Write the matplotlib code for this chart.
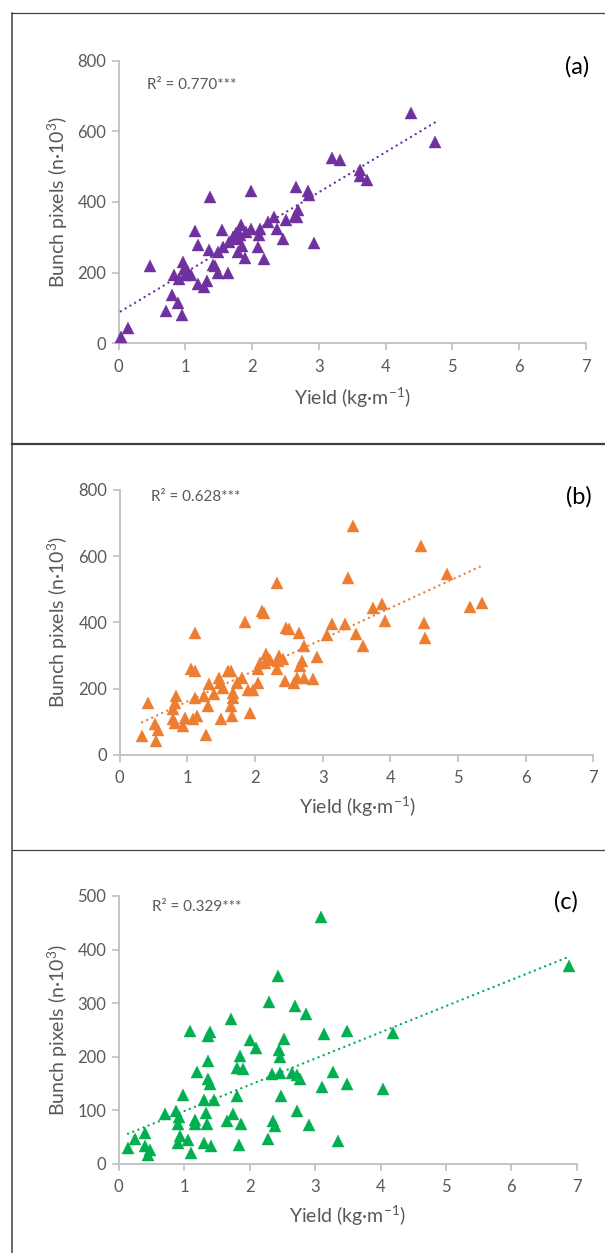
import matplotlib
matplotlib.use("Agg")
import matplotlib.pyplot as plt
from matplotlib.lines import Line2D
import numpy as np

plt.rcParams['font.family'] = ['Lato', 'DejaVu Sans']
plt.rcParams['mathtext.fontset'] = 'custom'
plt.rcParams['mathtext.rm'] = 'Lato'
plt.rcParams['mathtext.it'] = 'Lato:italic'
plt.rcParams['mathtext.bf'] = 'Lato:bold'

# ---------------- data ----------------
yield_a = [0.03, 0.14, 0.47, 0.71, 0.80, 0.83, 0.89, 0.91, 0.95, 0.97, 0.98, 0.99, 1.04, 1.08,
           1.14, 1.19, 1.19, 1.28, 1.33, 1.37, 1.36, 1.42, 1.45, 1.49, 1.49, 1.55, 1.57, 1.64,
           1.65, 1.72, 1.75, 1.78, 1.79, 1.83, 1.82, 1.85, 1.89, 1.91, 1.98, 1.98, 2.08, 2.12,
           2.10, 2.17, 2.24, 2.32, 2.37, 2.46, 2.50, 2.65, 2.64, 2.68, 2.67, 2.83, 2.85, 2.93,
           3.20, 3.31, 3.61, 3.62, 3.72, 4.38, 4.74]
pixels_a = [17, 44, 220, 92, 137, 193, 115, 181, 79, 231, 209, 193, 203, 193,
            319, 277, 168, 160, 175, 413, 264, 222, 220, 259, 200, 321, 274, 200,
            287, 302, 311, 295, 258, 335, 306, 276, 241, 316, 430, 323, 274, 323,
            306, 239, 344, 358, 323, 294, 349, 443, 360, 377, 357, 431, 420, 285,
            524, 519, 491, 474, 462, 651, 571]

yield_b = [0.33, 0.42, 0.52, 0.56, 0.54, 0.79, 0.83, 0.81, 0.79, 0.81, 0.94, 0.96, 1.06, 1.11,
           1.12, 1.08, 1.14, 1.11, 1.24, 1.27, 1.30, 1.32, 1.39, 1.46, 1.48, 1.53, 1.49, 1.60,
           1.64, 1.64, 1.67, 1.68, 1.66, 1.74, 1.81, 1.85, 1.90, 1.92, 1.97, 2.04, 2.05, 2.08,
           2.11, 2.13, 2.16, 2.14, 2.22, 2.32, 2.34, 2.33, 2.36, 2.42, 2.45, 2.46, 2.50, 2.58,
           2.62, 2.65, 2.66, 2.69, 2.72, 2.73, 2.86, 2.91, 3.06, 3.14, 3.33, 3.37, 3.45, 3.49,
           3.60, 3.74, 3.87, 3.92, 4.45, 4.49, 4.51, 4.83, 5.17, 5.35]
pixels_b = [56, 157, 92, 75, 41, 137, 178, 155, 107, 97, 87, 112, 258, 369,
            253, 107, 117, 172, 177, 59, 147, 213, 182, 233, 218, 203, 107, 253,
            253, 147, 187, 172, 117, 218, 233, 402, 197, 127, 197, 218, 258, 278,
            434, 429, 303, 278, 286, 520, 283, 259, 299, 289, 223, 384, 380, 218,
            233, 369, 269, 284, 233, 328, 228, 294, 362, 394, 394, 533, 691, 364,
            328, 444, 455, 404, 632, 399, 354, 545, 447, 459]

yield_c = [0.14, 0.24, 0.40, 0.40, 0.44, 0.48, 0.70, 0.87, 0.92, 0.90, 0.93, 0.90, 0.98, 1.05,
           1.09, 1.10, 1.17, 1.17, 1.20, 1.30, 1.30, 1.33, 1.35, 1.37, 1.36, 1.40, 1.37, 1.40,
           1.41, 1.46, 1.65, 1.71, 1.74, 1.80, 1.81, 1.85, 1.90, 1.84, 1.87, 2.00, 2.09, 2.28,
           2.30, 2.34, 2.36, 2.38, 2.43, 2.45, 2.47, 2.47, 2.48, 2.52, 2.65, 2.70, 2.73, 2.73,
           2.77, 2.86, 2.90, 3.09, 3.11, 3.14, 3.27, 3.35, 3.49, 3.49, 4.04, 4.19, 6.88]
pixels_c = [29, 47, 57, 34, 17, 26, 93, 98, 88, 74, 52, 39, 128, 44,
            248, 20, 83, 74, 171, 119, 40, 95, 74, 192, 158, 150, 238, 246,
            34, 119, 81, 270, 93, 180, 127, 202, 178, 35, 74, 231, 216, 46,
            302, 167, 81, 71, 351, 213, 199, 169, 126, 234, 170, 294, 166, 99,
            158, 279, 72, 460, 144, 242, 172, 43, 248, 150, 139, 245, 370]

# trend lines: (slope, intercept)
trend_a = (113.5, 87.0)
trend_b = (94.2, 66.7)
trend_c = (49.0, 49.6)

r2_labels = ["R\u00b2 = 0.770***", "R\u00b2 = 0.628***", "R\u00b2 = 0.329***"]
panel_labels = ["(a)", "(b)", "(c)"]
colors = ["#7030A0", "#ED7D31", "#00B050"]
y_max = [800, 800, 500]
y_step = [200, 200, 100]
x_ticks = [0, 1, 2, 3, 4, 5, 6, 7]

# ---------------- figure ----------------
W, H = 605, 1253
fig = plt.figure(figsize=(W / 100, H / 100), dpi=100)

def fx(px):
    return px / W

def fy(py):
    return 1 - py / H

# axes boxes in pixels: (x0, x7, y_top, y_bottom)
boxes = [(118.8, 585.6, 60.7, 343.3),
         (119.7, 593.4, 490.0, 754.7),
         (118.8, 576.8, 896.0, 1164.0)]
r2_pos = [(147, 85), (151, 496.7), (152, 907)]
pl_pos = [(577, 66.7), (579, 496.7), (566, 901.7)]
xl_pos = [(352, 398), (357, 806.7), (347.5, 1216)]
yl_x = [70, 70, 70]

datasets = [(yield_a, pixels_a, trend_a), (yield_b, pixels_b, trend_b), (yield_c, pixels_c, trend_c)]

grey = "#595959"
spine_c = "#BFBFBF"

for i, (xs, ys, tr) in enumerate(datasets):
    x0, x7, yt, yb = boxes[i]
    ax = fig.add_axes([fx(x0), fy(yb), fx(x7) - fx(x0), fy(yt) - fy(yb)])
    ax.set_xlim(0, 7)
    ax.set_ylim(0, y_max[i])
    ax.plot(xs, ys, linestyle='none', marker='^', ms=8.8, color=colors[i],
            markeredgecolor=colors[i], markeredgewidth=0.3, zorder=3, clip_on=False)
    xs_arr = np.array(xs)
    tx = np.array([xs_arr.min(), xs_arr.max()])
    ax.plot(tx, tr[0] * tx + tr[1], color=colors[i], lw=1.7,
            linestyle=(0, (0.05, 2.3)), dash_capstyle='round', zorder=4)
    for s in ['top', 'right']:
        ax.spines[s].set_visible(False)
    for s in ['left', 'bottom']:
        ax.spines[s].set_color(spine_c)
        ax.spines[s].set_linewidth(1.3)
    ax.set_xticks(x_ticks)
    ax.set_yticks(np.arange(0, y_max[i] + 1, y_step[i]))
    ax.tick_params(axis='both', colors=spine_c, labelcolor=grey, labelsize=12,
                   length=5, width=1.2, direction='out')
    ax.tick_params(axis='x', pad=6)
    ax.tick_params(axis='y', pad=4)
    ax.patch.set_alpha(0)
    # labels
    fig.text(fx(xl_pos[i][0]), fy(xl_pos[i][1]), "Yield (kg\u00b7m$^{-1}$)",
             ha='center', va='center', fontsize=14, color=grey)
    ax.set_ylabel("Bunch pixels (n\u00b710$^{3}$)", fontsize=14, color=grey)
    ax.yaxis.set_label_coords((yl_x[i] - x0) / (x7 - x0), 0.5)
    fig.text(fx(r2_pos[i][0]), fy(r2_pos[i][1]), r2_labels[i], ha='left', va='center',
             fontsize=11, color=grey)
    fig.text(fx(pl_pos[i][0]), fy(pl_pos[i][1]), panel_labels[i], ha='center', va='center',
             fontsize=17, color='black')

# panel frame lines
fig.add_artist(Line2D([fx(11.7), 1], [fy(13), fy(13)], color='#404040', lw=0.9))
fig.add_artist(Line2D([fx(11.7), 1], [fy(444), fy(444)], color='#404040', lw=1.6))
fig.add_artist(Line2D([fx(11.7), 1], [fy(850.3), fy(850.3)], color='#404040', lw=0.9))
fig.add_artist(Line2D([fx(11.7), fx(11.7)], [fy(13), 0], color='#404040', lw=1.1))

fig.savefig("out.png", dpi=100, facecolor='white')
